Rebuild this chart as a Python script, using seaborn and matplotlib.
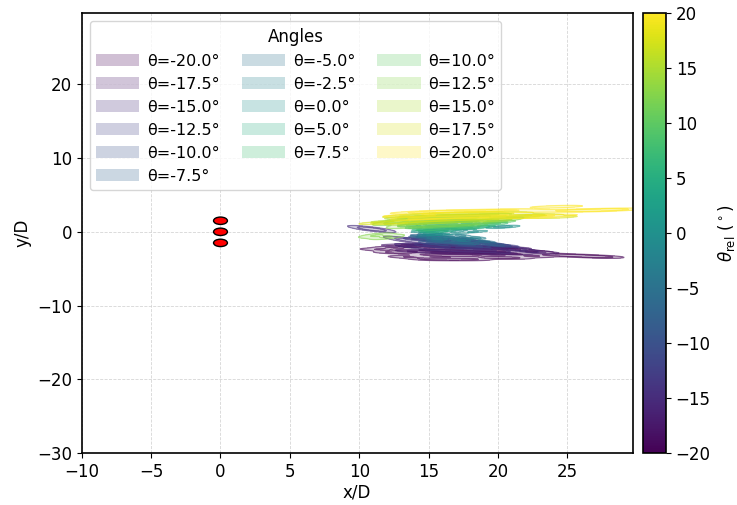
import numpy as np
import pandas as pd
import matplotlib
matplotlib.use("Agg")
import matplotlib.pyplot as plt
import seaborn as sns
from matplotlib.patches import Patch, Ellipse
from matplotlib.colors import Normalize, ListedColormap
from matplotlib.cm import ScalarMappable

# ---------------- data ----------------
angles = [-20.0, -17.5, -15.0, -12.5, -10.0, -7.5, -5.0, -2.5, 0.0,
          5.0, 7.5, 10.0, 12.5, 15.0, 17.5, 20.0]

# sample positions (x/D, y/D) of each wake plume
m20_x = [11.5, 12.5, 12.5, 13.5, 13.5, 13.5, 15.0, 15.0, 15.0, 15.0, 16.5, 16.5, 16.5, 16.5,
         18.0, 18.0, 18.0, 18.0, 19.5, 19.5, 19.5, 21.0, 21.0, 21.0, 22.5, 22.5, 24.0, 25.3,
         26.5, 27.6]
m20_y = [-2.4, -2.2, -2.8, -2.0, -2.7, -3.4, -1.9, -2.5, -3.1, -3.7, -2.0, -2.6, -3.2, -3.7,
         -2.1, -2.7, -3.2, -3.7, -2.2, -2.8, -3.5, -2.4, -3.0, -3.5, -2.7, -3.3, -3.1, -3.2,
         -3.3, -3.4]
m175_x = [13.0, 14.0, 14.0, 15.0, 15.0, 16.5, 16.5, 18.0, 18.0, 19.5, 19.5, 21.0, 21.0, 22.0, 23.0]
m175_y = [-1.9, -1.8, -2.6, -1.8, -2.7, -1.9, -2.8, -2.0, -2.8, -2.1, -2.9, -2.2, -2.9, -2.6, -2.8]
m15_x = [13.2, 14.0, 14.0, 15.0, 15.0, 16.5, 16.5, 18.0, 18.0, 19.5, 19.5, 20.5, 21.5, 10.8, 11.0]
m15_y = [-1.0, -1.3, -2.0, -1.4, -2.2, -1.5, -2.3, -1.6, -2.4, -1.7, -2.5, -2.1, -2.4, 0.4, 0.35]
m125_x = [14.2, 15.0, 15.0, 16.0, 16.0, 17.5, 17.5, 18.5, 18.5, 19.5, 20.5]
m125_y = [-1.0, -1.0, -1.8, -1.2, -2.0, -1.3, -2.1, -1.4, -2.1, -1.8, -1.9]
m10_x = [14.5, 15.2, 15.2, 16.0, 16.0, 17.5, 17.5, 18.5, 18.5, 19.5, 20.0]
m10_y = [-0.8, -0.8, -1.5, -1.0, -1.7, -1.1, -1.8, -1.3, -1.9, -1.6, -1.8]
m75_x = [14.6, 15.3, 15.3, 16.5, 16.5, 17.5, 17.5, 18.8, 19.6]
m75_y = [-0.6, -0.6, -1.3, -0.8, -1.5, -1.0, -1.6, -1.4, -1.7]
m5_x = [14.5, 15.0, 15.6, 15.6, 16.5, 17.0, 17.8, 17.8, 19.0]
m5_y = [-0.7, -0.5, -0.6, -1.2, -1.0, -1.4, -0.9, -1.5, -1.3]
m25_x = [15.0, 15.6, 15.6, 16.5, 17.3, 17.3, 18.4]
m25_y = [-0.3, -0.3, -0.9, -0.6, -0.5, -1.1, -0.8]
p0_x = [14.8, 15.3, 15.3, 16.0, 16.0, 17.0, 17.4, 18.2, 20.2, 20.5]
p0_y = [0.1, 0.2, -0.4, 0.3, -0.3, 0.0, 0.2, 0.0, 0.7, 0.65]
p5_x = [14.6, 15.2, 15.2, 16.0, 16.0, 17.0, 17.4, 18.2, 19.0]
p5_y = [0.3, 0.6, 0.0, 0.7, 0.1, 0.4, 0.8, 0.5, 0.7]
p75_x = [14.2, 15.0, 15.0, 15.8, 15.8, 16.6, 16.6, 17.8, 17.8, 19.0, 19.8]
p75_y = [0.6, 1.0, 0.3, 1.1, 0.4, 1.2, 0.5, 1.2, 0.6, 1.0, 1.1]
p10_x = [13.8, 14.6, 14.6, 15.8, 15.8, 17.0, 17.0, 18.2, 18.2, 19.4, 20.2]
p10_y = [0.9, 1.3, 0.6, 1.4, 0.7, 1.5, 0.8, 1.5, 0.9, 1.3, 1.4]
p125_x = [12.2, 13.2, 13.2, 14.4, 14.4, 15.6, 15.6, 17.0, 17.0, 18.2, 18.2, 19.4, 20.6, 11.2, 12.0]
p125_y = [1.2, 1.6, 0.8, 1.7, 0.9, 1.8, 1.0, 1.9, 1.1, 1.9, 1.2, 1.6, 1.7, -0.5, -0.7]
p15_x = [12.2, 13.2, 13.2, 14.4, 14.4, 15.6, 15.6, 17.0, 17.0, 18.4, 18.4, 19.6, 19.6, 21.0, 22.0]
p15_y = [1.4, 1.9, 1.1, 2.0, 1.2, 2.1, 1.3, 2.2, 1.4, 2.2, 1.5, 2.3, 1.6, 2.0, 2.2]
p175_x = [11.6, 12.2, 13.2, 13.2, 14.4, 14.4, 15.6, 15.6, 17.0, 17.0, 18.4, 18.4, 19.8,
          19.8, 21.0, 21.0, 22.2, 23.2, 24.2]
p175_y = [1.2, 1.2, 2.1, 1.4, 2.3, 1.5, 2.4, 1.6, 2.5, 1.7, 2.5, 1.8, 2.6, 1.9, 2.5,
          1.9, 2.3, 2.2, 2.0]
p20_x = [13.6, 14.2, 14.2, 15.2, 15.2, 16.5, 16.5, 18.0, 18.0, 19.5, 19.5, 21.0, 21.0, 22.5,
         22.5, 23.8, 24.2, 25.2, 26.2, 27.0, 27.8, 28.4]
p20_y = [2.2, 2.6, 1.8, 2.7, 1.9, 2.8, 2.0, 2.8, 2.0, 2.9, 2.1, 2.9, 2.1, 2.8, 2.0, 2.2, 3.4,
         2.9, 2.9, 2.9, 3.0, 3.0]

plume_x = [m20_x, m175_x, m15_x, m125_x, m10_x, m75_x, m5_x, m25_x, p0_x,
           p5_x, p75_x, p10_x, p125_x, p15_x, p175_x, p20_x]
plume_y = [m20_y, m175_y, m15_y, m125_y, m10_y, m75_y, m5_y, m25_y, p0_y,
           p5_y, p75_y, p10_y, p125_y, p15_y, p175_y, p20_y]

cyl_x = [0.0, 0.0, 0.0]
cyl_y = [1.5, 0.0, -1.5]
cyl_d = 1.0

xticks = [-10, -5, 0, 5, 10, 15, 20, 25]
yticks = [-30, -20, -10, 0, 10, 20]
cticks = [-20, -15, -10, -5, 0, 5, 10, 15, 20]

# ---------------- style ----------------
sns.set_style("ticks", {"axes.edgecolor": "black", "text.color": "black",
                        "xtick.color": "black", "ytick.color": "black",
                        "axes.labelcolor": "black"})
plt.rcParams["font.family"] = ["DejaVu Sans"]

fig = plt.figure(figsize=(7.37, 5.05), dpi=100)
ax = fig.add_axes([81.7 / 737, 51.7 / 505, 551 / 737, 440 / 505])
cax = fig.add_axes([643.3 / 737, 51.7 / 505, 22.7 / 737, 440 / 505])

cmap = plt.get_cmap("viridis")
norm = Normalize(vmin=-20, vmax=20)

handles = []
for ang, xs, ys in zip(angles, plume_x, plume_y):
    col = cmap(norm(ang))
    one = ListedColormap([col])
    xa = np.asarray(xs, dtype=float)
    ya = np.asarray(ys, dtype=float)
    sns.kdeplot(x=xa, y=ya, fill=True, levels=[0.08, 0.5, 1.0],
                cmap=one, alpha=0.22, bw_adjust=0.4, gridsize=250, ax=ax)
    sns.kdeplot(x=xa, y=ya, fill=False, levels=[0.08, 0.5],
                cmap=one, alpha=0.55, linewidths=0.9, bw_adjust=0.4,
                gridsize=250, ax=ax)
    handles.append(Patch(facecolor=col, alpha=0.25, edgecolor="none",
                         label=f"θ={ang:.1f}°"))

for cx, cy in zip(cyl_x, cyl_y):
    ax.add_patch(Ellipse((cx, cy), cyl_d, cyl_d, facecolor="red",
                         edgecolor="black", linewidth=1.0, zorder=5))

ax.set_xlim(-10, 29.7)
ax.set_ylim(-30, 29.6)
ax.set_xticks(xticks)
ax.set_yticks(yticks)
ax.tick_params(labelsize=12)
ax.set_xlabel("x/D", fontsize=12, labelpad=2)
ax.set_ylabel("y/D", fontsize=12, labelpad=4)
ax.grid(True, linestyle="--", linewidth=0.6, color="#cccccc", alpha=0.8)
for s in ax.spines.values():
    s.set_visible(True)
    s.set_linewidth(1.2)

leg = ax.legend(handles=handles, title="Angles", loc="upper left", ncol=3,
                fontsize=11.5, title_fontsize=12, handlelength=2.7,
                handletextpad=0.48, columnspacing=1.4, labelspacing=0.5,
                frameon=True)

sm = ScalarMappable(norm=norm, cmap=cmap)
cb = fig.colorbar(sm, cax=cax, ticks=cticks)
cb.ax.tick_params(labelsize=12)
cb.set_label(r"$\theta_{\rm rel}$ ($^\circ$)", fontsize=12)
cb.outline.set_linewidth(1.2)

fig.savefig("out.png", dpi=100)
